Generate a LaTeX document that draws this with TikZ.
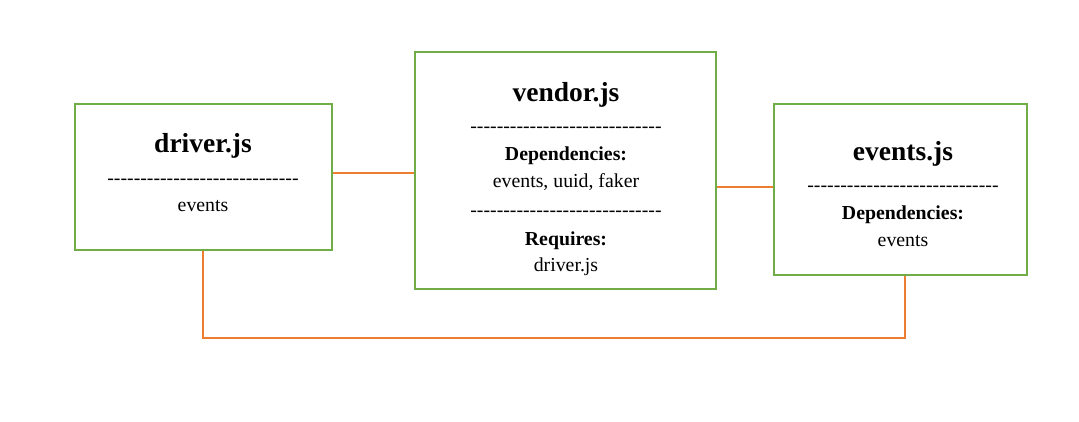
\documentclass[tikz,border=0pt]{standalone}
\usepackage{fontspec}
\setmainfont{Liberation Serif}
\definecolor{boxgreen}{HTML}{70AD47}
\definecolor{lineorange}{HTML}{ED7D31}
\newcommand{\dashrow}{-{}-{}-{}-{}-{}-{}-{}-{}-{}-{}-{}-{}-{}-{}-{}-{}-{}-{}-{}-{}-{}-{}-{}-{}-{}-{}-{}-{}-{}}
\tikzset{
  modbox/.style={draw=boxgreen, line width=2pt, fill=white, inner sep=0pt},
  link/.style={draw=lineorange, line width=1.6pt},
  title/.style={anchor=base, inner sep=0pt, font=\fontsize{27.5}{31}\selectfont\bfseries},
  body/.style={anchor=base, inner sep=0pt, font=\fontsize{19.8}{23}\selectfont},
  bodyb/.style={anchor=base, inner sep=0pt, font=\fontsize{19.8}{23}\selectfont\bfseries},
}
\begin{document}
\begin{tikzpicture}[x=1pt,y=-1pt]
\useasboundingbox (0,0) rectangle (1079,422);
% boxes
\node[modbox, minimum width=257pt, minimum height=146pt] (driver) at (203.5,177) {};
\node[modbox, minimum width=301pt, minimum height=237pt] (vendor) at (565.5,170.5) {};
\node[modbox, minimum width=253pt, minimum height=171pt] (events) at (900.5,189.5) {};
% connectors
\coordinate (c1) at (203,338);
\coordinate (c2) at (905,338);
\draw[link] (driver.east |- 0,173) -- (vendor.west |- 0,173);
\draw[link] (vendor.east |- 0,187) -- (events.west |- 0,187);
\draw[link] (driver.south -| c1) -- (c1) -- (c2) -- (events.south -| c2);
% driver text
\node[title] (dt) at (203,153) {driver.js};
\node[body] (dd) at (203,185) {\dashrow};
\node[body] (de) at (203,212) {events};
% vendor text
\node[title] (vt) at (566,102) {vendor.js};
\node[body] (vd1) at (566,133) {\dashrow};
\node[bodyb] (vdh) at (566,161) {Dependencies:};
\node[body] (vdl) at (566,188) {events, uuid, faker};
\node[body] (vd2) at (566,217) {\dashrow};
\node[bodyb] (vrh) at (566,245) {Requires:};
\node[body] (vrl) at (566,271) {driver.js};
% events text
\node[title] (et) at (903,160.5) {events.js};
\node[body] (ed) at (903,192) {\dashrow};
\node[bodyb] (edh) at (903,220) {Dependencies:};
\node[body] (edl) at (903,246.5) {events};
\end{tikzpicture}
\end{document}
